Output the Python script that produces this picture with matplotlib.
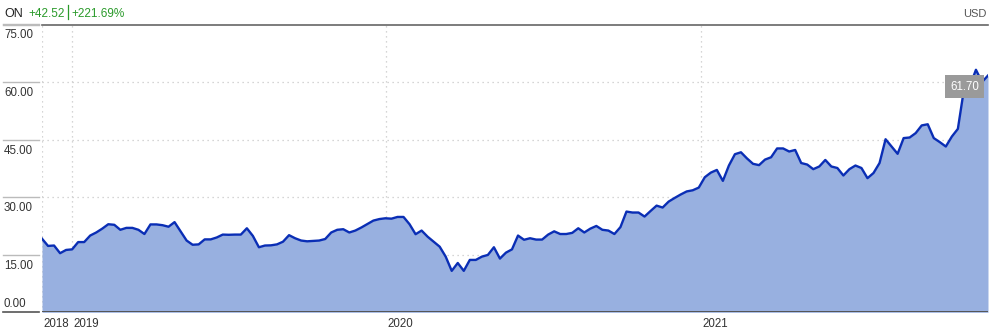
import matplotlib
matplotlib.use("Agg")
import matplotlib.pyplot as plt
import matplotlib.transforms as mtransforms
import pandas as pd

plt.rcParams['font.family'] = ['Liberation Sans', 'DejaVu Sans']

# ---- data (weekly closes) ----
ticker = "ON"
change_abs = "+42.52"
change_pct = "+221.69%"
currency = "USD"
last_label = "61.70"
start_date = "2018-11-27"

prices = [
    19.18, 17.3, 17.4, 15.4, 16.25, 16.4, 18.3, 18.3, 20.0, 20.8, 21.8, 22.95, 22.8, 21.5,
    22.0, 22.0, 21.5, 20.4, 22.9, 22.9, 22.7, 22.3, 23.5, 21.1, 18.7, 17.6, 17.7,
    19.0, 19.0, 19.5, 20.25, 20.2, 20.25, 20.25, 21.9, 19.9, 16.95, 17.4, 17.45, 17.7,
    18.4, 20.1, 19.3, 18.7, 18.5, 18.6, 18.7, 19.1, 20.8, 21.5, 21.65, 20.8, 21.3,
    22.1, 23.0, 23.9, 24.3, 24.5, 24.4, 24.85, 24.85, 22.95, 20.35, 21.3, 19.7, 18.4,
    17.1, 14.5, 10.8, 12.85, 10.8, 13.65, 13.65, 14.5, 14.95, 16.95, 14.0, 15.55,
    16.4, 20.0, 18.9, 19.3, 18.95, 18.95, 20.25, 21.1, 20.4, 20.4, 20.7, 21.9, 20.8,
    21.8, 22.5, 21.5, 21.3, 20.4, 22.2, 26.25, 26.0, 26.0, 24.95, 26.4, 27.8, 27.3,
    28.85, 29.8, 30.7, 31.5, 31.8, 32.5, 35.2, 36.4, 37.1, 34.25, 38.25, 41.2, 41.7,
    40.1, 38.7, 38.35, 39.8, 40.4, 42.7, 42.7, 41.9, 42.3, 38.9, 38.5, 37.3, 38.0, 39.7,
    38.0, 37.6, 35.65, 37.3, 38.25, 37.6, 34.95, 36.3, 38.9, 45.1, 43.2, 41.3, 45.4,
    45.55, 46.7, 48.7, 49.0, 45.4, 44.35, 43.2, 45.8, 47.8, 58.0, 59.0, 63.2, 60.0, 61.70,
]
y_ticks = [0, 15, 30, 45, 60, 75]
y_tick_labels = ["0.00", "15.00", "30.00", "45.00", "60.00", "75.00"]
x_year_ticks = ["2019-01-01", "2020-01-01", "2021-01-01"]

dates = pd.date_range(start_date, periods=len(prices), freq="7D")
s = pd.Series(prices, index=dates)

W, H = 992, 334
fig = plt.figure(figsize=(W / 100, H / 100), dpi=100)

def fx(x):
    return x / W

def fy(y):
    return 1 - y / H

def off(dx, dy):
    return mtransforms.ScaledTranslation(dx / 100, dy / 100, fig.dpi_scale_trans)

L, R, T, B = 42, 988, 24.5, 312.3
ax = fig.add_axes([fx(L), fy(B), fx(R) - fx(L), fy(T) - fy(B)])

fill_c = "#98b0e0"
line_c = "#0a2eb5"
grid_c = "#c8c8c8"
txt_c = "#333333"
green = "#2a9a2a"

ax.fill_between(s.index, s.values, 0, color=fill_c, lw=0, zorder=2)
ax.plot(s.index, s.values, color=line_c, lw=1.7, zorder=3)

ax.set_xlim(dates[0], dates[-1])
ax.set_ylim(0, 75)

for side in ["left", "right", "bottom"]:
    ax.spines[side].set_visible(False)
ax.spines["top"].set_color("#666666")
ax.spines["top"].set_linewidth(1.2)

ax.set_xticks([])
ax.set_yticks([])

# horizontal dotted gridlines
for v in y_ticks[1:-1]:
    ax.axhline(v, color=grid_c, lw=0.9, ls=(0, (1, 3)), zorder=1)
# vertical dotted gridlines
vx = [dates[0]] + [pd.Timestamp(d) for d in x_year_ticks]
for d in vx:
    ax.axvline(d, color=grid_c, lw=0.9, ls=(0, (1, 3)), zorder=1)

# baseline
ax.axhline(0, color="#555555", lw=1.4, zorder=4)

# y labels and short solid lines on the left
trans = mtransforms.blended_transform_factory(fig.transFigure, ax.transData)
for v, lab in zip(y_ticks, y_tick_labels):
    col = "#555555" if v == 0 else "#bbbbbb"
    ax.plot([fx(3), fx(39)], [v, v], transform=trans, color=col,
            lw=1.2 if v == 0 else 1.0, clip_on=False, zorder=4)
    if v == 0:
        ax.text(fx(4), v, lab, transform=trans + off(0, 2.5), ha="left", va="bottom",
                fontsize=8.3, color=txt_c)
    else:
        ax.text(fx(4), v, lab, transform=trans + off(0, -5), ha="left", va="top",
                fontsize=8.3, color=txt_c)

# x labels
xtrans = mtransforms.blended_transform_factory(ax.transData, fig.transFigure)
xlabels = [str(dates[0].year)] + [d[:4] for d in x_year_ticks]
for d, lab in zip(vx, xlabels):
    ax.text(d, fy(327), lab, transform=xtrans + off(1.5, 0),
            ha="left", va="baseline", fontsize=8.3, color=txt_c)

# header, chained left to right
fig.canvas.draw()
r = fig.canvas.get_renderer()
t1 = fig.text(fx(4.5), fy(17), ticker, ha="left", va="baseline", fontsize=9, color="#222222")
x = t1.get_window_extent(r).x1 + 5
t2 = fig.text(x / W, fy(17), change_abs, ha="left", va="baseline", fontsize=8.5, color=green)
x = t2.get_window_extent(r).x1 + 3
fig.lines.append(plt.Line2D([x / W, x / W], [fy(5), fy(19)], transform=fig.transFigure,
                            color=green, lw=0.9))
t3 = fig.text((x + 4) / W, fy(17), change_pct, ha="left", va="baseline", fontsize=8.5, color=green)
fig.text(fx(987), fy(17), currency, ha="right", va="baseline", fontsize=8, color="#555555")
# short gray line under header on the left
fig.lines.append(plt.Line2D([fx(3), fx(39)], [fy(24.5), fy(24.5)], transform=fig.transFigure,
                            color="#bbbbbb", lw=1.0))

# last value label box
ax.text(dates[-1], prices[-1], last_label,
        transform=ax.transData + off(-9, -5),
        ha="right", va="top", fontsize=8.3, color="white", zorder=6,
        bbox=dict(boxstyle="square,pad=0.45", fc="#9a9a9a", ec="none"))

fig.savefig("out.png", dpi=100)
